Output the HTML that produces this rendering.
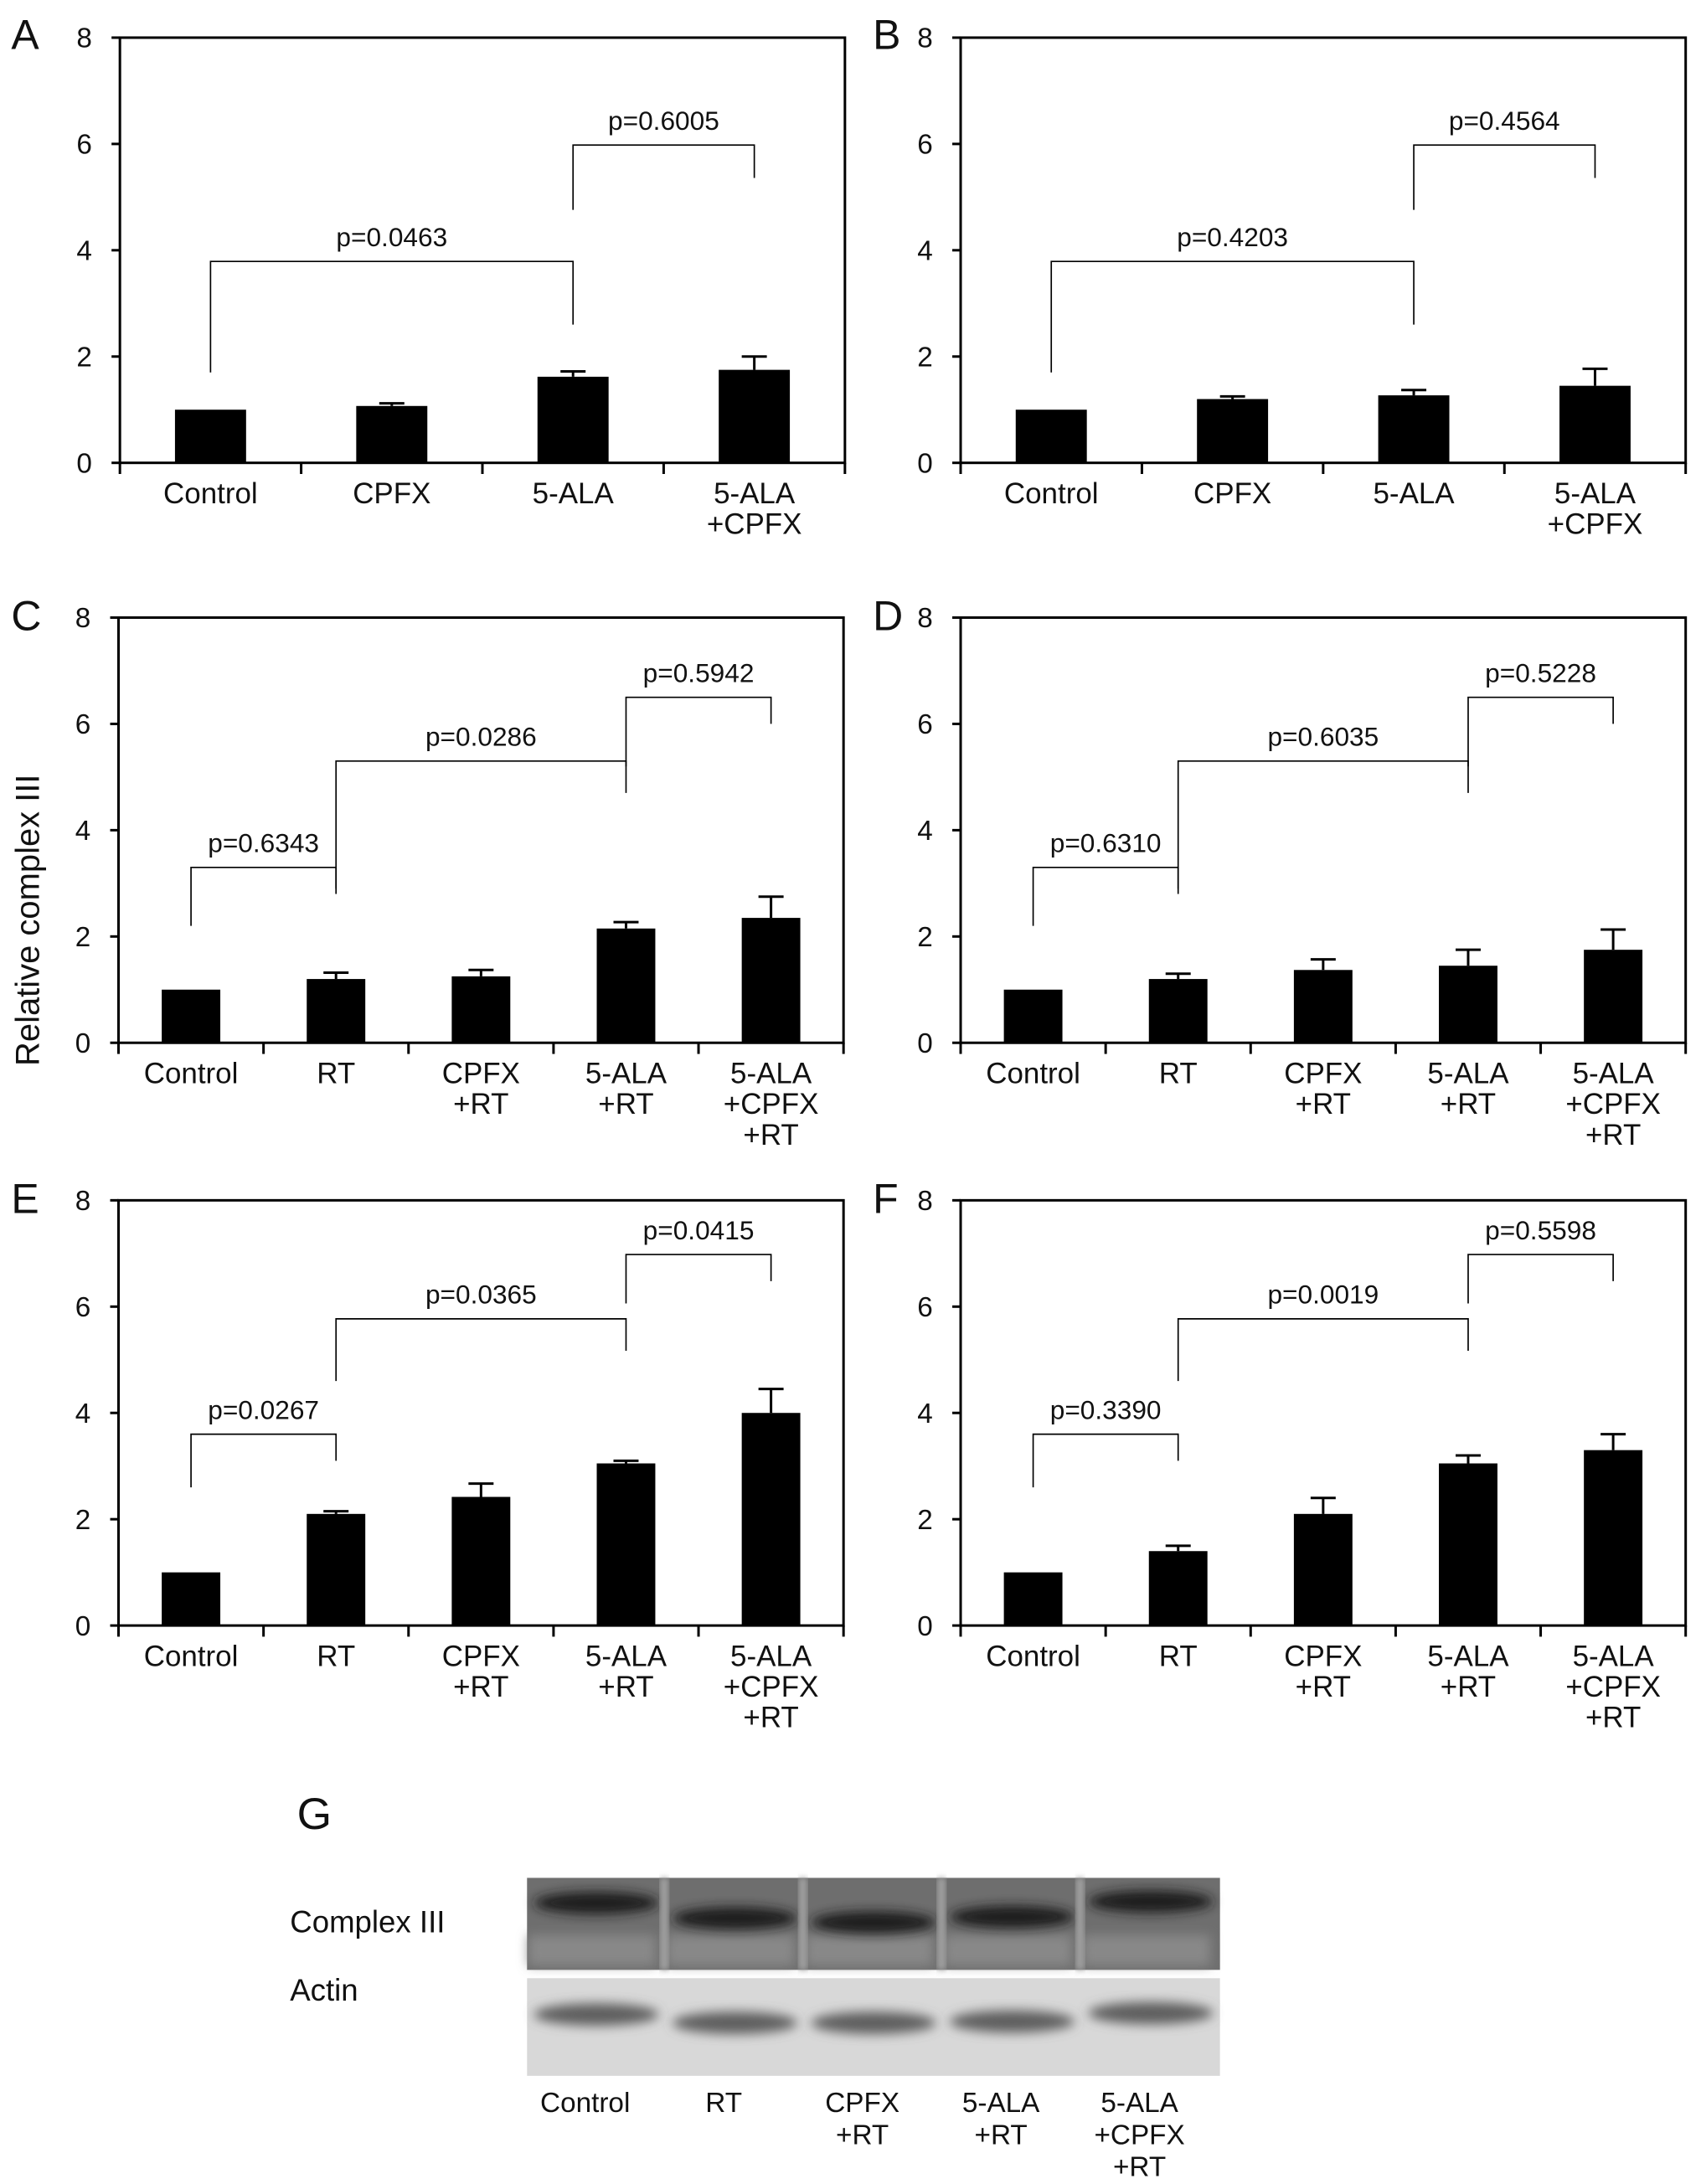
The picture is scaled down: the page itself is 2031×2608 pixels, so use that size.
<!DOCTYPE html>
<html><head><meta charset="utf-8">
<style>
html,body{margin:0;padding:0;background:#fff;}
svg{display:block;}
text{font-family:"Liberation Sans",Arial,sans-serif;fill:#111;}
</style></head>
<body>
<svg id="fig" width="2031" height="2608" viewBox="0 0 1220 1566.6" xmlns="http://www.w3.org/2000/svg">
<defs>
<filter id="blur4" x="-20%" y="-50%" width="140%" height="200%"><feGaussianBlur stdDeviation="4"/></filter>
<filter id="blur2"><feGaussianBlur stdDeviation="2"/></filter>
</defs>
<g id="charts"></g>
<g id="blot"></g>
</svg>
<script>
// ---- data ----
const catsAB = ["Control","CPFX","5-ALA","5-ALA\n+CPFX"];
const catsCF = ["Control","RT","CPFX\n+RT","5-ALA\n+RT","5-ALA\n+CPFX\n+RT"];
const yTicks = [0,2,4,6,8];
const valsA = [1.0,1.07,1.62,1.75];
const errA  = [0,0.05,0.1,0.25];
const valsB = [1.0,1.2,1.27,1.45];
const errB  = [0,0.05,0.1,0.32];
const valsC = [1.0,1.2,1.25,2.15,2.35];
const errC  = [0,0.12,0.12,0.12,0.4];
const valsD = [1.0,1.2,1.37,1.45,1.75];
const errD  = [0,0.1,0.2,0.3,0.38];
const valsE = [1.0,2.1,2.42,3.05,4.0];
const errE  = [0,0.05,0.25,0.05,0.45];
const valsF = [1.0,1.4,2.1,3.05,3.3];
const errF  = [0,0.1,0.3,0.15,0.3];
// brackets: [fromIdx, toIdx, height, leftLegEnd, rightLegEnd, label]
const bracketsA = [[0,2,3.79,1.7,2.6,"p=0.0463"],[2,3,5.98,4.76,5.36,"p=0.6005"]];
const bracketsB = [[0,2,3.79,1.7,2.6,"p=0.4203"],[2,3,5.98,4.76,5.36,"p=0.4564"]];
const bracketsC = [[0,1,3.3,2.2,2.8,"p=0.6343"],[1,3,5.3,2.9,4.7,"p=0.0286"],[3,4,6.5,5.2,6.0,"p=0.5942"]];
const bracketsD = [[0,1,3.3,2.2,2.8,"p=0.6310"],[1,3,5.3,2.9,4.7,"p=0.6035"],[3,4,6.5,5.2,6.0,"p=0.5228"]];
const bracketsE = [[0,1,3.6,2.6,3.1,"p=0.0267"],[1,3,5.77,4.6,5.17,"p=0.0365"],[3,4,6.98,6.06,6.48,"p=0.0415"]];
const bracketsF = [[0,1,3.6,2.6,3.1,"p=0.3390"],[1,3,5.77,4.6,5.17,"p=0.0019"],[3,4,6.98,6.06,6.48,"p=0.5598"]];
const blotLanes = ["Control","RT","CPFX\n+RT","5-ALA\n+RT","5-ALA\n+CPFX\n+RT"];

const NS="http://www.w3.org/2000/svg";
function mk(tag,attrs,parent){const e=document.createElementNS(NS,tag);for(const k in attrs)e.setAttribute(k,attrs[k]);parent.appendChild(e);return e;}

const panels=[
 {id:"A",x0:86,x1:606,yTop:27,y0:332,cats:catsAB,vals:valsA,err:errA,br:bracketsA,bw:51,lx:8,ly:35},
 {id:"B",x0:689,x1:1209,yTop:27,y0:332,cats:catsAB,vals:valsB,err:errB,br:bracketsB,bw:51,lx:626,ly:35},
 {id:"C",x0:85,x1:605,yTop:443,y0:748,cats:catsCF,vals:valsC,err:errC,br:bracketsC,bw:42,lx:8,ly:452},
 {id:"D",x0:689,x1:1209,yTop:443,y0:748,cats:catsCF,vals:valsD,err:errD,br:bracketsD,bw:42,lx:626,ly:452},
 {id:"E",x0:85,x1:605,yTop:861,y0:1166,cats:catsCF,vals:valsE,err:errE,br:bracketsE,bw:42,lx:8,ly:870},
 {id:"F",x0:689,x1:1209,yTop:861,y0:1166,cats:catsCF,vals:valsF,err:errF,br:bracketsF,bw:42,lx:626,ly:870}
];
const root=document.getElementById('charts');
panels.forEach(p=>{
  const g=mk('g',{},root);
  
  
  const n=p.cats.length, bandW=(p.x1-p.x0)/n;
  const ys=v=>p.y0-(v/8)*(p.y0-p.yTop);
  const xs=i=>p.x0+bandW*(i+0.5);
  const lt=mk('text',{x:p.lx,y:p.ly,'font-size':30},g);lt.textContent=p.id;
  
  
  const fr=mk('rect',{x:p.x0,y:p.yTop,width:p.x1-p.x0,height:p.y0-p.yTop,fill:'none',stroke:'#000','stroke-width':1.8},g);
  
  
  yTicks.forEach(t=>{
    mk('line',{x1:p.x0-6,x2:p.x0,y1:ys(t),y2:ys(t),stroke:'#000','stroke-width':1.8},g);
    const tx=mk('text',{x:p.x0-20,y:ys(t)+7,'font-size':20,'text-anchor':'end'},g);tx.textContent=t;
    
    
  });
  for(let i=0;i<=n;i++){mk('line',{x1:p.x0+bandW*i,x2:p.x0+bandW*i,y1:p.y0,y2:p.y0+8,stroke:'#000','stroke-width':1.8},g);}
  p.vals.forEach((v,i)=>{
    const e=p.err[i];
    if(e>0){
      const eb=mk('path',{d:`M${xs(i)},${ys(v)} V${ys(v+e)} M${xs(i)-9},${ys(v+e)} H${xs(i)+9}`,stroke:'#000','stroke-width':1.8,fill:'none'},g);
      
      
    }
    const b=mk('rect',{x:xs(i)-p.bw/2,y:ys(v),width:p.bw,height:p.y0-ys(v),fill:'#000'},g);
    
    
  });
  p.cats.forEach((c,i)=>{
    const t=mk('text',{x:xs(i),y:p.y0+29,'font-size':21,'text-anchor':'middle'},g);
    
    
    c.split('\n').forEach((ln,k)=>{const s=mk('tspan',{x:xs(i),dy:k?22:0},t);s.textContent=ln;});
  });
  p.br.forEach(b=>{
    const xa=xs(b[0]),xb=xs(b[1]);
    const pth=mk('path',{d:`M${xa},${ys(b[3])} V${ys(b[2])} H${xb} V${ys(b[4])}`,stroke:'#000','stroke-width':1,fill:'none'},g);
    
    
    const t=mk('text',{x:(xa+xb)/2,y:ys(b[2])-11,'font-size':19,'text-anchor':'middle'},g);t.textContent=b[5];
    
    
  });
});
const yt=mk('text',{x:0,y:0,'font-size':24,'text-anchor':'middle',transform:'translate(28,660) rotate(-90)'},root);
yt.textContent='Relative complex III';



// ---- blot ----
const bl=document.getElementById('blot');
const gt=mk('text',{x:213,y:1312,'font-size':32},bl);gt.textContent='G';


const c3=mk('text',{x:208,y:1386,'font-size':22},bl);c3.textContent='Complex III';


const ac=mk('text',{x:208,y:1435,'font-size':22},bl);ac.textContent='Actin';


const bx0=378,bx1=875,laneW=(bx1-bx0)/5;
const top1=mk('rect',{x:bx0,y:1347,width:bx1-bx0,height:66,fill:'#6e6e6e'},bl);


const top2=mk('rect',{x:bx0,y:1419,width:bx1-bx0,height:70,fill:'#d8d8d8'},bl);


const bandY=[1365,1376,1379,1375,1364], actY=[1445,1451,1451,1450,1444];
for(let i=0;i<5;i++){
  const cx=bx0+laneW*(i+0.5);
  mk('rect',{x:bx0+laneW*i+1,y:1388,width:laneW-8,height:22,fill:'#888',filter:'url(#blur4)'},bl);
  mk('ellipse',{cx:cx,cy:bandY[i],rx:laneW*0.45,ry:8,fill:'#1a1a1a',filter:'url(#blur4)'},bl);
  mk('ellipse',{cx:cx,cy:actY[i],rx:laneW*0.45,ry:8,fill:'#5e5e5e',filter:'url(#blur4)'},bl);
  if(i>0){mk('rect',{x:bx0+laneW*i-4,y:1347,width:6,height:66,fill:'#a0a0a0',filter:'url(#blur2)'},bl);}
  const t=mk('text',{x:cx-8,y:1515,'font-size':20,'text-anchor':'middle'},bl);
  
  
  blotLanes[i].split('\n').forEach((ln,k)=>{const s=mk('tspan',{x:cx-8,dy:k?23:0},t);s.textContent=ln;});
}
</script>
</body></html>
